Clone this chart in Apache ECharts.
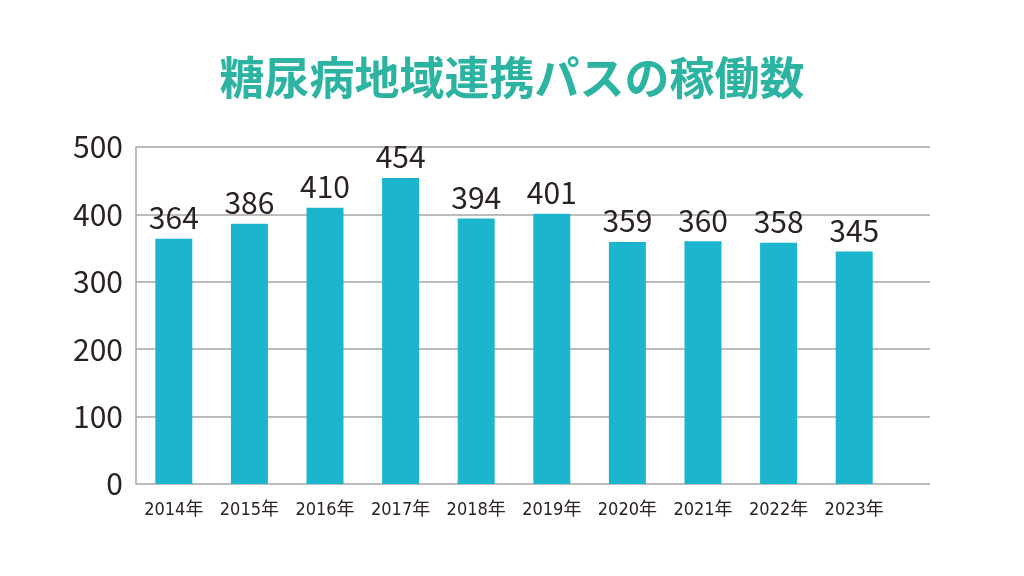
<!DOCTYPE html>
<html>
<head>
<meta charset="utf-8">
<script src="https://cdn.jsdelivr.net/npm/echarts@6/dist/echarts.min.js"></script>
<style>html,body{margin:0;padding:0;background:#fff}#c{width:1024px;height:576px}</style>
</head>
<body>
<div id="c"></div>
<script>
const titleText = '糖尿病地域連携パスの稼働数';
const categories = ['2014年','2015年','2016年','2017年','2018年','2019年','2020年','2021年','2022年','2023年'];
const values = [364, 386, 410, 454, 394, 401, 359, 360, 358, 345];
const yTicks = [0, 100, 200, 300, 400, 500];

const textColor = '#2a2220';
const lineColor = '#a6a6a6';
const chart = echarts.init(document.getElementById('c'), null, {renderer: 'canvas'});
chart.setOption({
  backgroundColor: '#fff',
  animation: false,
  title: {
    text: titleText,
    left: 'center',
    top: 48,
    textStyle: {
      fontFamily: '"Noto Sans CJK JP", sans-serif',
      fontSize: 45,
      fontWeight: 'bold',
      color: '#2db3a2',
      lineHeight: 50
    }
  },
  grid: [
    {left: 136, top: 147, width: 794, height: 337, containLabel: false},
    {left: 136, top: 147, width: 756, height: 337, containLabel: false}
  ],
  xAxis: [
    {gridIndex: 0, type: 'value', min: 0, max: 1, show: false},
    {
      gridIndex: 1, type: 'category', data: categories,
      axisLine: {show: false}, axisTick: {show: false},
      axisLabel: {
        interval: 0,
        margin: 17,
        color: textColor,
        fontSize: 18,
        fontFamily: '"DejaVu Sans Condensed", "Noto Sans CJK JP", sans-serif'
      }
    }
  ],
  yAxis: [
    {
      gridIndex: 0, type: 'value', min: yTicks[0], max: yTicks[yTicks.length - 1], interval: 100,
      axisLine: {show: true, lineStyle: {color: lineColor, width: 1.5}},
      axisTick: {show: false},
      splitLine: {show: true, lineStyle: {color: lineColor, width: 1.5}},
      axisLabel: {
        margin: 13,
        color: textColor,
        fontSize: 30,
        fontFamily: '"Noto Sans CJK JP", "Noto Sans", sans-serif'
      }
    },
    {
      gridIndex: 1, type: 'value', min: yTicks[0], max: yTicks[yTicks.length - 1], interval: 100,
      show: false
    }
  ],
  series: [{
    type: 'bar',
    xAxisIndex: 1,
    yAxisIndex: 1,
    data: values,
    barWidth: 37,
    itemStyle: {color: '#1bb6cd'},
    label: {
      show: true,
      position: 'top',
      distance: 6,
      color: textColor,
      fontSize: 30,
      fontFamily: '"Noto Sans CJK JP", "Noto Sans", sans-serif'
    }
  }]
});
</script>
</body>
</html>
